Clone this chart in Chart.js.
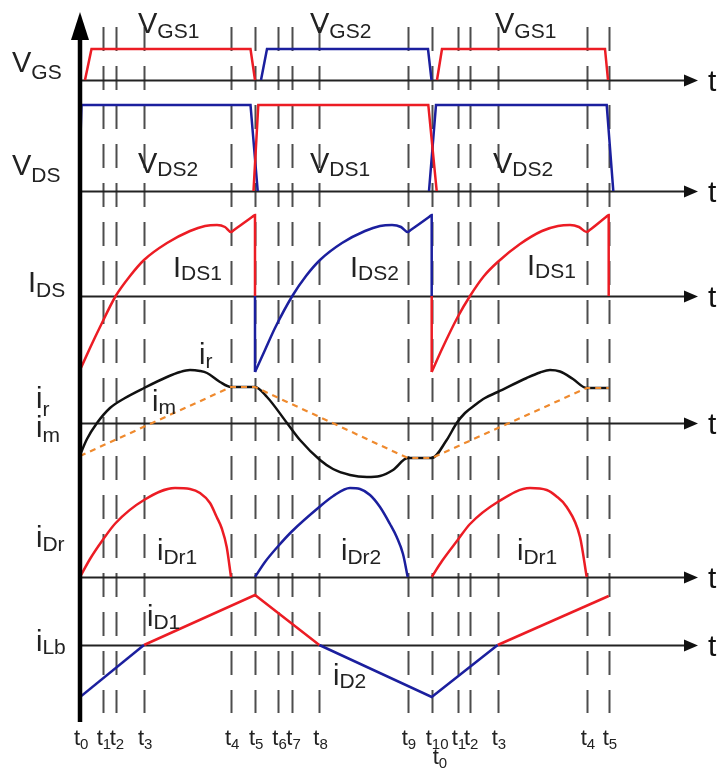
<!DOCTYPE html>
<html>
<head>
<meta charset="utf-8">
<script src="https://cdn.jsdelivr.net/npm/chart.js@4/dist/chart.umd.min.js"></script>
<style>
  html, body { margin: 0; padding: 0; background: #fff; }
</style>
</head>
<body>
<canvas id="waveChart" width="720" height="770"></canvas>
<script>
// time marks t0..t10, t1..t5 (x units, t0 = 0)
const tickTimes = [0, 22.7, 35.7, 64, 151, 175, 198.3, 212.3, 239.3, 327.7, 351.7, 377.7, 390, 417.7, 506.7, 528.7];
const tickNames = ['0', '1', '2', '3', '4', '5', '6', '7', '8', '9', '10', '1', '2', '3', '4', '5'];

// gate voltages (1 = high)
const vgs1a = [[5, 0], [11.5, 1], [170.5, 1], [175, 0]];
const vgs2 = [[181, 0], [187, 1], [348, 1], [351.5, 0]];
const vgs1b = [[357, 0], [362, 1], [525, 1], [528, 0]];

// drain-source voltages (1 = high)
const vds2a = [[0, 0.45], [1.5, 1], [170.5, 1], [177.7, 0]];
const vds1 = [[173.5, 0], [178.3, 1], [348.3, 1], [356.7, 0]];
const vds2b = [[349, 0], [356, 1], [526.7, 1], [533.3, 0]];

// drain currents
const ids1a = [[0, -7.4], [10, -5.2], [20, -3.1], [35.7, 0], [50, 2.0], [64, 3.6], [87, 5.3], [110, 6.5], [125, 7.0], [137, 7.1], [145, 6.9], [151, 6.4], [154, 6.6], [172, 7.9], [175, 8.1], [175, 0]];
const ids2 = [[175, -7.6], [185, -5.4], [195, -3.2], [212.3, 0], [226, 2.0], [240, 3.6], [262, 5.3], [285, 6.5], [300, 7.0], [312, 7.1], [321, 6.9], [327.7, 6.4], [330.7, 6.6], [349, 7.9], [351.7, 8.1], [351.7, 0]];
const ids1b = [[351.7, -7.6], [362, -5.3], [377.7, -2.1], [390, 0], [404, 2.0], [417.7, 3.4], [440, 5.2], [462, 6.5], [478, 7.0], [490, 7.1], [499, 6.9], [506.7, 6.4], [509.7, 6.6], [526, 7.9], [528.7, 8.1], [528.7, 0]];
const idsDropT5 = [[175, 0], [175, -7.6]];
const idsDropT10 = [[351.7, 0], [351.7, -7.6]];

// resonant and magnetizing currents
const ir = [[0, -3.2], [7, -1.6], [17, 0], [30, 1.5], [45, 2.5], [64, 3.5], [87, 4.6], [100, 5.1], [110, 5.3], [120, 5.2], [127, 5.0], [140, 4.1], [151, 3.6],
  [175, 3.6], [187, 2.6], [207, 0], [220, -1.7], [240, -3.7], [253, -4.6], [270, -5.2], [287, -5.4], [300, -5.3], [313, -4.7], [327.7, -3.5],
  [351.7, -3.5], [366.7, -1.7], [376.7, 0], [385, 1.0], [395, 1.8], [405, 2.5], [417.7, 3.1], [446.7, 4.5], [460, 5.05], [470, 5.3], [480, 5.15], [493, 4.4], [506.7, 3.5], [528.7, 3.5]];
const im = [[0, -3.3], [151, 3.6], [175, 3.6], [327.7, -3.5], [351.7, -3.5], [506.7, 3.5], [528.7, 3.5]];

// rectifier diode currents
const idr1a = [[0, 0], [10, 1.8], [22.7, 3.7], [35.7, 5.4], [64, 7.7], [95, 8.9], [110, 8.8], [120, 8.4], [130, 7.4], [136.7, 6.0], [142, 4.8], [146.7, 3.0], [151, 0]];
const idr2 = [[175, 0], [185, 1.5], [198.3, 3.1], [212.3, 4.6], [239.3, 7.0], [253.3, 8.1], [270, 8.9], [280, 8.8], [290, 8.2], [300, 7.0], [310, 5.3], [316.7, 4.0], [323, 2.3], [327.7, 0]];
const idr1b = [[351.7, 0], [362, 1.6], [377.7, 3.7], [390, 5.3], [417.7, 7.5], [450, 8.9], [466.7, 8.7], [476, 8.1], [486.7, 7.0], [500, 4.0], [506.7, 0]];

// boost inductor current
const ilbBlue1 = [[0, -5.2], [64, 0]];
const ilbRed1 = [[64, 0], [175, 5.0], [239.3, 0]];
const ilbBlue2 = [[239.3, 0], [351.7, -5.2], [417.7, 0]];
const ilbRed2 = [[417.7, 0], [528.7, 4.9]];

// label texts [main, subscript]
const axisNames = [['V', 'GS'], ['V', 'DS'], ['I', 'DS'], ['i', 'r'], ['i', 'm'], ['i', 'Dr'], ['i', 'Lb']];
const curveNames = [['V', 'GS1'], ['V', 'GS2'], ['V', 'GS1'], ['V', 'DS2'], ['V', 'DS1'], ['V', 'DS2'],
  ['I', 'DS1'], ['I', 'DS2'], ['I', 'DS1'], ['i', 'r'], ['i', 'm'], ['i', 'Dr1'], ['i', 'Dr2'], ['i', 'Dr1'], ['i', 'D1'], ['i', 'D2']];

const RED = '#ec1c24';
const BLUE = '#1b1f9e';
const BLACK = '#111';
const ORANGE = '#ef8a2e';
const FONT = '"Liberation Sans", Arial, sans-serif';

// panel baseline (px) and px per unit
const panels = { yVgs: [80, 31], yVds: [191, 86], yIds: [296, 10], yIr: [423, 10], yIdr: [577, 10], yIlb: [645, 10] };
const H = 770;

const scales = { x: { type: 'linear', min: 0, max: 620, display: false } };
Object.entries(panels).forEach(([id, p]) => {
  scales[id] = { type: 'linear', display: false, min: -(H - p[0]) / p[1], max: p[0] / p[1] };
});

function trace(pts, color, axis, extra) {
  return Object.assign({
    data: pts.map(p => ({ x: p[0], y: p[1] })),
    borderColor: color,
    borderWidth: 2.5,
    pointRadius: 0,
    tension: 0,
    fill: false,
    yAxisID: axis
  }, extra || {});
}
const curved = { cubicInterpolationMode: 'monotone' };

const datasets = [
  trace(vgs1a, RED, 'yVgs'), trace(vgs2, BLUE, 'yVgs'), trace(vgs1b, RED, 'yVgs'),
  trace(vds1, RED, 'yVds'), trace(vds2a, BLUE, 'yVds'), trace(vds2b, BLUE, 'yVds'),
  trace(ids1a, RED, 'yIds', curved), trace(ids2, BLUE, 'yIds', curved), trace(ids1b, RED, 'yIds', curved),
  trace(idsDropT5, BLUE, 'yIds'), trace(idsDropT10, RED, 'yIds'),
  trace(im, ORANGE, 'yIr', { borderDash: [6, 5], borderWidth: 2.2 }),
  trace(ir, BLACK, 'yIr', curved),
  trace(idr1a, RED, 'yIdr', curved), trace(idr2, BLUE, 'yIdr', curved), trace(idr1b, RED, 'yIdr', curved),
  trace(ilbBlue1, BLUE, 'yIlb'), trace(ilbRed1, RED, 'yIlb'), trace(ilbBlue2, BLUE, 'yIlb'), trace(ilbRed2, RED, 'yIlb')
];

function rich(ctx, x, y, main, sub, ms, ss, drop) {
  ctx.font = ms + 'px ' + FONT;
  ctx.fillText(main, x, y);
  const w = ctx.measureText(main).width;
  ctx.font = ss + 'px ' + FONT;
  ctx.fillText(sub, x + w, y + drop);
}

const axesPlugin = {
  id: 'axesPlugin',
  beforeDatasetsDraw(chart) {
    const ctx = chart.ctx;
    const xs = chart.scales.x;
    ctx.save();
    // dashed time marks
    ctx.strokeStyle = '#4d4d4d';
    ctx.lineWidth = 2;
    ctx.setLineDash([24, 15]);
    tickTimes.forEach(t => {
      if (t === 0) return;
      const px = Math.round(xs.getPixelForValue(t)) + 0.5;
      ctx.beginPath();
      ctx.moveTo(px, 27);
      ctx.lineTo(px, 713);
      ctx.stroke();
    });
    ctx.setLineDash([]);
    // horizontal axes with arrows
    const x0 = xs.getPixelForValue(0);
    Object.keys(panels).forEach(id => {
      const y = Math.round(chart.scales[id].getPixelForValue(0)) + 0.5;
      ctx.strokeStyle = '#222';
      ctx.lineWidth = 1.8;
      ctx.beginPath();
      ctx.moveTo(x0, y);
      ctx.lineTo(688, y);
      ctx.stroke();
      ctx.fillStyle = '#111';
      ctx.beginPath();
      ctx.moveTo(684, y - 6);
      ctx.lineTo(698, y);
      ctx.lineTo(684, y + 6);
      ctx.closePath();
      ctx.fill();
      ctx.font = '30px ' + FONT;
      ctx.fillText('t', 708, y + 10);
    });
    ctx.restore();
  },
  afterDatasetsDraw(chart) {
    const ctx = chart.ctx;
    const xs = chart.scales.x;
    const x0 = xs.getPixelForValue(0);
    ctx.save();
    // main vertical axis
    ctx.strokeStyle = '#000';
    ctx.lineWidth = 4.5;
    ctx.beginPath();
    ctx.moveTo(x0, 36);
    ctx.lineTo(x0, 722);
    ctx.stroke();
    ctx.fillStyle = '#000';
    ctx.beginPath();
    ctx.moveTo(x0 - 9, 40);
    ctx.lineTo(x0, 12);
    ctx.lineTo(x0 + 9, 40);
    ctx.closePath();
    ctx.fill();

    ctx.fillStyle = '#222';
    ctx.textBaseline = 'alphabetic';
    // axis names: x, baseline, subscript drop
    const axisPos = [[12, 72, 7], [12, 175, 7], [28, 292, 5], [36, 408, 8], [36, 437, 5], [36, 547, 4], [36, 651, 3]];
    axisNames.forEach((n, i) => rich(ctx, axisPos[i][0], axisPos[i][1], n[0], n[1], 29, 21, axisPos[i][2]));
    // curve names
    const curvePos = [[138, 33, 5], [310, 33, 5], [495, 33, 5], [138, 173, 3], [310, 173, 3], [493, 173, 3],
      [173, 277, 3], [350, 277, 3], [527, 275, 3], [199, 364, 4], [152, 411, 3], [157, 560, 4], [341, 560, 4],
      [517, 560, 4], [147, 626, 3], [333, 685, 3]];
    curveNames.forEach((n, i) => rich(ctx, curvePos[i][0], curvePos[i][1], n[0], n[1], 29, 21, curvePos[i][2]));
    // time tick names
    tickTimes.forEach((t, i) => {
      const px = xs.getPixelForValue(t);
      rich(ctx, px - 6, 745, 't', tickNames[i], 22, 15, 4);
    });
    rich(ctx, xs.getPixelForValue(tickTimes[10]) + 1, 764, 't', tickNames[0], 22, 15, 4);
    ctx.restore();
  }
};

new Chart(document.getElementById('waveChart').getContext('2d'), {
  type: 'line',
  data: { datasets: datasets },
  options: {
    responsive: false,
    animation: false,
    layout: { padding: { left: 80, right: 20, top: 0, bottom: 0 } },
    scales: scales,
    plugins: { legend: { display: false }, tooltip: { enabled: false } }
  },
  plugins: [axesPlugin]
});
</script>
</body>
</html>
